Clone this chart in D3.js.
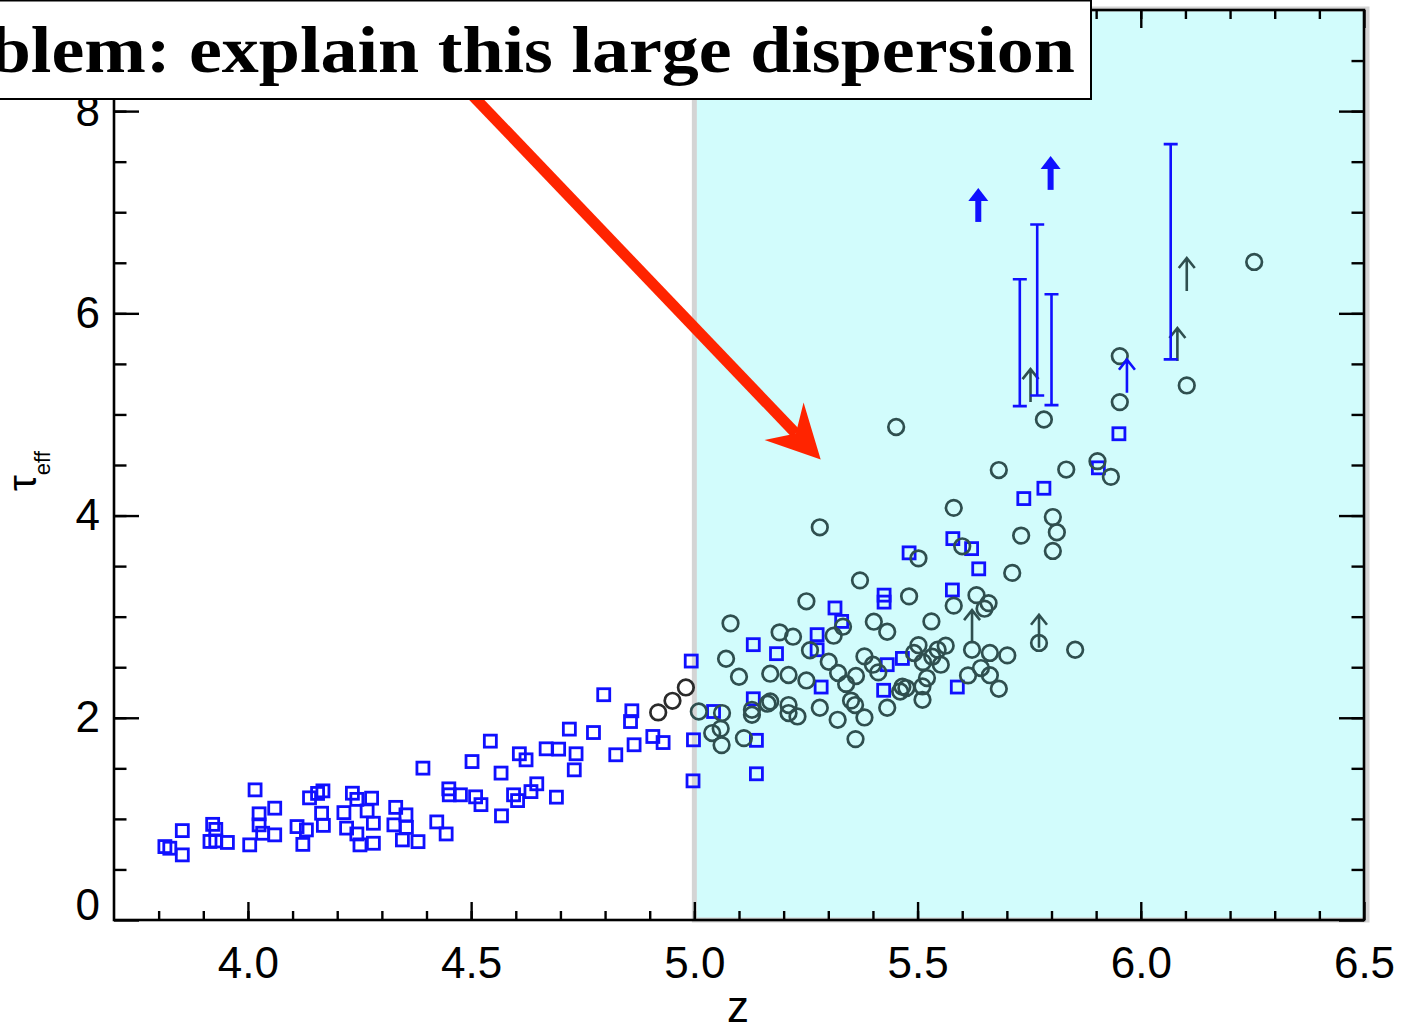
<!DOCTYPE html>
<html>
<head>
<meta charset="utf-8">
<script src="https://cdn.jsdelivr.net/npm/d3@7"></script>
<style>
  body { margin: 0; background: #fff; overflow: hidden; }
  svg { display: block; }
</style>
</head>
<body>
<svg id="chart" width="1422" height="1027"></svg>
<script>
// tick labels
var xMajor = [4.0, 4.5, 5.0, 5.5, 6.0, 6.5];
var yMajor = [0, 2, 4, 6, 8];

// blue squares [z, tau]
var squares = [
  [3.814, 0.726], [3.825, 0.710], [3.853, 0.884], [3.853, 0.644], [3.915, 0.777],
  [3.921, 0.946], [3.928, 0.896], [3.928, 0.782], [3.954, 0.767], [4.004, 0.743],
  [4.016, 1.287], [4.025, 1.050], [4.025, 0.941], [4.033, 0.858], [4.060, 1.106],
  [4.060, 0.842], [4.110, 0.924], [4.123, 0.748], [4.131, 0.891], [4.138, 1.208],
  [4.156, 1.252], [4.168, 1.277], [4.165, 1.056], [4.169, 0.936], [4.215, 1.062],
  [4.221, 0.909], [4.234, 1.254], [4.244, 1.193], [4.244, 0.851], [4.251, 0.743],
  [4.267, 1.079], [4.277, 1.205], [4.281, 0.957], [4.281, 0.759], [4.331, 1.114],
  [4.327, 0.941], [4.354, 1.040], [4.355, 0.916], [4.346, 0.792], [4.381, 0.775],
  [4.392, 1.502], [4.423, 0.970], [4.444, 0.851], [4.450, 1.297], [4.451, 1.238],
  [4.476, 1.238], [4.510, 1.218], [4.522, 1.141], [4.502, 1.567], [4.543, 1.769],
  [4.567, 1.453], [4.568, 1.030], [4.595, 1.238], [4.604, 1.181], [4.608, 1.644],
  [4.623, 1.584], [4.634, 1.270], [4.647, 1.347], [4.668, 1.693], [4.691, 1.215],
  [4.696, 1.690], [4.720, 1.888], [4.731, 1.485], [4.735, 1.644], [4.774, 1.854],
  [4.797, 2.228], [4.824, 1.634], [4.857, 1.963], [4.860, 2.069], [4.865, 1.733],
  [4.907, 1.815], [4.930, 1.755],
  [4.993, 2.561], [4.998, 1.782], [4.997, 1.376], [5.043, 2.062], [5.132, 2.723],
  [5.132, 2.188], [5.139, 1.777], [5.139, 1.446], [5.184, 2.634], [5.275, 2.822],
  [5.275, 2.673], [5.284, 2.304], [5.315, 3.086], [5.330, 2.953], [5.425, 3.213],
  [5.425, 3.144], [5.424, 2.272], [5.432, 2.525], [5.466, 2.587], [5.481, 3.631],
  [5.578, 3.264], [5.579, 3.772], [5.589, 2.304], [5.621, 3.673], [5.637, 3.473],
  [5.738, 4.168], [5.783, 4.270], [5.905, 4.472], [5.951, 4.809]
];

// dark circles below z = 5
var darkCircles = [[4.919, 2.053], [4.951, 2.168], [4.981, 2.300]];

// slate circles
var circles = [
  [5.010, 2.062], [5.040, 1.849], [5.059, 1.893], [5.061, 1.730], [5.062, 2.047],
  [5.111, 1.799], [5.071, 2.584], [5.081, 2.934], [5.100, 2.406], [5.129, 2.079],
  [5.129, 2.030], [5.164, 2.139], [5.170, 2.161], [5.170, 2.436], [5.191, 2.845],
  [5.211, 2.126], [5.211, 2.047], [5.211, 2.423], [5.221, 2.802], [5.231, 2.013],
  [5.251, 3.152], [5.251, 2.369], [5.259, 2.668], [5.281, 3.884], [5.281, 2.099],
  [5.301, 2.554], [5.312, 2.812], [5.321, 1.980], [5.322, 2.443], [5.333, 2.901],
  [5.340, 2.335], [5.351, 2.170], [5.360, 2.126], [5.362, 2.413], [5.361, 1.789],
  [5.371, 3.359], [5.381, 2.607], [5.381, 2.003], [5.400, 2.525], [5.402, 2.950],
  [5.412, 2.449], [5.432, 2.851], [5.432, 2.099], [5.452, 4.876], [5.461, 2.260],
  [5.466, 2.307], [5.475, 2.294], [5.481, 3.201], [5.492, 2.641], [5.502, 2.718],
  [5.502, 3.577], [5.511, 2.310], [5.511, 2.178], [5.512, 2.550], [5.521, 2.393],
  [5.531, 2.953], [5.533, 2.604], [5.545, 2.673], [5.552, 2.525], [5.563, 2.713],
  [5.581, 4.076], [5.581, 3.109], [5.600, 3.696], [5.613, 2.419], [5.622, 2.673],
  [5.632, 3.213], [5.642, 2.492], [5.650, 3.079], [5.659, 3.134], [5.662, 2.641],
  [5.662, 2.421], [5.682, 2.287], [5.682, 4.450], [5.701, 2.617], [5.712, 3.433],
  [5.732, 3.802], [5.772, 2.740], [5.783, 4.950], [5.803, 3.985], [5.812, 3.835],
  [5.803, 3.650], [5.833, 4.455], [5.853, 2.673], [5.903, 4.538], [5.933, 4.383],
  [5.953, 5.577], [5.953, 5.122], [6.103, 5.287], [6.254, 6.508]
];

// lower limits (slate, thin arrows)
var lowerLimits = [[5.753, 5.122], [6.103, 6.221], [6.082, 5.528], [5.622, 2.738], [5.772, 2.693]];
// blue thin lower limit
var blueLimits = [[5.969, 5.215]];
// blue bold lower limits
var boldLimits = [[5.636, 6.904], [5.798, 7.221]];
// blue ranges
var rangeZ = [5.729, 5.768, 5.800, 6.067];
var rangeLo = [5.082, 5.188, 5.092, 5.545];
var rangeHi = [6.337, 6.878, 6.188, 7.673];

(function () {
  var svg = d3.select("#chart");
  var pL = 114, pR = 1364, pT = 10, pB = 920;

  var x = d3.scaleLinear().domain([3.7, 6.5]).range([pL, pR]);
  var y = d3.scaleLinear().domain([0, 9]).range([pB, pT]);

  var slate = "#2f4f4f";
  var blue = "#1010ff";

  // shaded region z > 5
  svg.append("rect")
    .attr("x", x(5.0))
    .attr("y", pT - 1)
    .attr("width", pR - x(5.0) + 3)
    .attr("height", pB - pT + 1)
    .attr("fill", "#d2fcfc")
    .attr("stroke", "#d4d4d4")
    .attr("stroke-width", 5);

  // minor / major ticks, all inward
  var xMinor = d3.range(38, 65).map(function (d) { return d / 10; });
  var yMinor = d3.range(1, 18).map(function (d) { return d / 2; });

  function tickAxis(axis, g) {
    g.call(axis);
    g.select(".domain").remove();
    g.selectAll(".tick line").attr("stroke", "#000").attr("stroke-width", 2.4);
  }

  tickAxis(d3.axisBottom(x).tickValues(xMinor).tickSize(-9).tickFormat(""),
    svg.append("g").attr("transform", "translate(0," + pB + ")"));
  tickAxis(d3.axisTop(x).tickValues(xMinor).tickSize(-9).tickFormat(""),
    svg.append("g").attr("transform", "translate(0," + pT + ")"));
  tickAxis(d3.axisLeft(y).tickValues(yMinor).tickSize(-12.5).tickFormat(""),
    svg.append("g").attr("transform", "translate(" + pL + ",0)"));
  tickAxis(d3.axisRight(y).tickValues(yMinor).tickSize(-12.5).tickFormat(""),
    svg.append("g").attr("transform", "translate(" + pR + ",0)"));

  var xAxis = svg.append("g").attr("transform", "translate(0," + pB + ")");
  tickAxis(d3.axisBottom(x).tickValues(xMajor).tickSize(-18).tickPadding(27)
    .tickFormat(d3.format(".1f")), xAxis);
  tickAxis(d3.axisTop(x).tickValues(xMajor).tickSize(-18).tickFormat(""),
    svg.append("g").attr("transform", "translate(0," + pT + ")"));
  var yAxis = svg.append("g").attr("transform", "translate(" + pL + ",0)");
  tickAxis(d3.axisLeft(y).tickValues(yMajor).tickSize(-25).tickPadding(14)
    .tickFormat(d3.format("d")), yAxis);
  tickAxis(d3.axisRight(y).tickValues(yMajor).tickSize(-25).tickFormat(""),
    svg.append("g").attr("transform", "translate(" + pR + ",0)"));

  svg.selectAll(".tick text")
    .attr("font-family", "Liberation Sans, Arial, sans-serif")
    .attr("font-size", 44)
    .attr("fill", "#000");
  yAxis.selectAll(".tick text").filter(function (d) { return d === 0; })
    .attr("dy", "-0.02em");

  // frame
  svg.append("rect")
    .attr("x", pL).attr("y", pT)
    .attr("width", pR - pL).attr("height", pB - pT)
    .attr("fill", "none")
    .attr("stroke", "#000")
    .attr("stroke-width", 2.6);

  // axis titles
  svg.append("text")
    .attr("x", 738).attr("y", 1022)
    .attr("text-anchor", "middle")
    .attr("font-family", "Liberation Sans, Arial, sans-serif")
    .attr("font-size", 44)
    .text("z");

  var yt = svg.append("text")
    .attr("transform", "translate(36,471) rotate(-90)")
    .attr("text-anchor", "middle")
    .attr("font-family", "Liberation Sans, Arial, sans-serif")
    .attr("font-size", 40);
  yt.append("tspan").text("τ");
  yt.append("tspan").attr("font-size", 22).attr("dy", 14).text("eff");

  // data marks
  var marks = svg.append("g");

  marks.selectAll(".sq")
    .data(squares)
    .enter()
    .append("rect")
    .attr("class", "sq")
    .attr("x", function (d) { return x(d[0]) - 6; })
    .attr("y", function (d) { return y(d[1]) - 6; })
    .attr("width", 12)
    .attr("height", 12)
    .attr("fill", "none")
    .attr("stroke", blue)
    .attr("stroke-width", 2.8);

  marks.selectAll(".dc")
    .data(darkCircles)
    .enter()
    .append("circle")
    .attr("cx", function (d) { return x(d[0]); })
    .attr("cy", function (d) { return y(d[1]); })
    .attr("r", 7.8)
    .attr("fill", "none")
    .attr("stroke", "#2a2a2a")
    .attr("stroke-width", 2.7);

  marks.selectAll(".ci")
    .data(circles)
    .enter()
    .append("circle")
    .attr("cx", function (d) { return x(d[0]); })
    .attr("cy", function (d) { return y(d[1]); })
    .attr("r", 7.8)
    .attr("fill", "none")
    .attr("stroke", slate)
    .attr("stroke-width", 2.7);

  // thin lower-limit arrows
  function thinArrow(sel, color) {
    sel.append("path")
      .attr("d", function (d) {
        var px = x(d[0]), py = y(d[1]), tip = py - 33;
        return "M" + px + "," + py + "V" + tip +
          "M" + (px - 8) + "," + (tip + 10) + "L" + px + "," + tip + "L" + (px + 8) + "," + (tip + 10);
      })
      .attr("fill", "none")
      .attr("stroke", color)
      .attr("stroke-width", 2.6);
  }
  thinArrow(marks.selectAll(".ll").data(lowerLimits).enter(), slate);
  thinArrow(marks.selectAll(".bl").data(blueLimits).enter(), blue);

  // bold blue arrows
  var bold = marks.selectAll(".bd").data(boldLimits).enter().append("g");
  bold.append("line")
    .attr("x1", function (d) { return x(d[0]); })
    .attr("x2", function (d) { return x(d[0]); })
    .attr("y1", function (d) { return y(d[1]); })
    .attr("y2", function (d) { return y(d[1]) - 22; })
    .attr("stroke", blue)
    .attr("stroke-width", 6);
  bold.append("path")
    .attr("d", function (d) {
      var px = x(d[0]), tip = y(d[1]) - 34;
      return "M" + px + "," + tip + "L" + (px + 10) + "," + (tip + 13) + "L" + (px - 10) + "," + (tip + 13) + "Z";
    })
    .attr("fill", blue);

  // ranges with caps
  marks.selectAll(".rg").data(rangeZ).enter().append("path")
    .attr("d", function (d, i) {
      var px = x(d), lo = y(rangeLo[i]), hi = y(rangeHi[i]);
      return "M" + px + "," + lo + "V" + hi +
        "M" + (px - 7) + "," + hi + "H" + (px + 7) +
        "M" + (px - 7) + "," + lo + "H" + (px + 7);
    })
    .attr("fill", "none")
    .attr("stroke", blue)
    .attr("stroke-width", 2.6);

  // red annotation arrow
  var aFrom = [x(4.453), y(8.386)];
  var aTo = [x(5.283), y(4.554)];
  var dx = aTo[0] - aFrom[0], dy = aTo[1] - aFrom[1];
  var len = Math.sqrt(dx * dx + dy * dy);
  var ux = dx / len, uy = dy / len, nx = -uy, ny = ux;
  function pt(a, b) { return [aTo[0] + ux * a + nx * b, aTo[1] + uy * a + ny * b]; }
  var notch = pt(-36, 0);
  svg.append("line")
    .attr("x1", aFrom[0]).attr("y1", aFrom[1])
    .attr("x2", notch[0]).attr("y2", notch[1])
    .attr("stroke", "#ff2400")
    .attr("stroke-width", 11);
  svg.append("path")
    .attr("d", "M" + [aTo, pt(-53, -27), notch, pt(-53, 27)].map(function (p) { return p.join(","); }).join("L") + "Z")
    .attr("fill", "#ff2400");

  // title box
  svg.append("rect")
    .attr("x", -20).attr("y", 0.5)
    .attr("width", 1111).attr("height", 98.5)
    .attr("fill", "#fff")
    .attr("stroke", "#000")
    .attr("stroke-width", 2);
  svg.append("text")
    .attr("x", -124).attr("y", 72)
    .attr("textLength", 1199)
    .attr("lengthAdjust", "spacingAndGlyphs")
    .attr("font-family", "Liberation Serif, Times New Roman, serif")
    .attr("font-weight", "bold")
    .attr("font-size", 66)
    .text("Problem: explain this large dispersion");
})();
</script>
</body>
</html>
